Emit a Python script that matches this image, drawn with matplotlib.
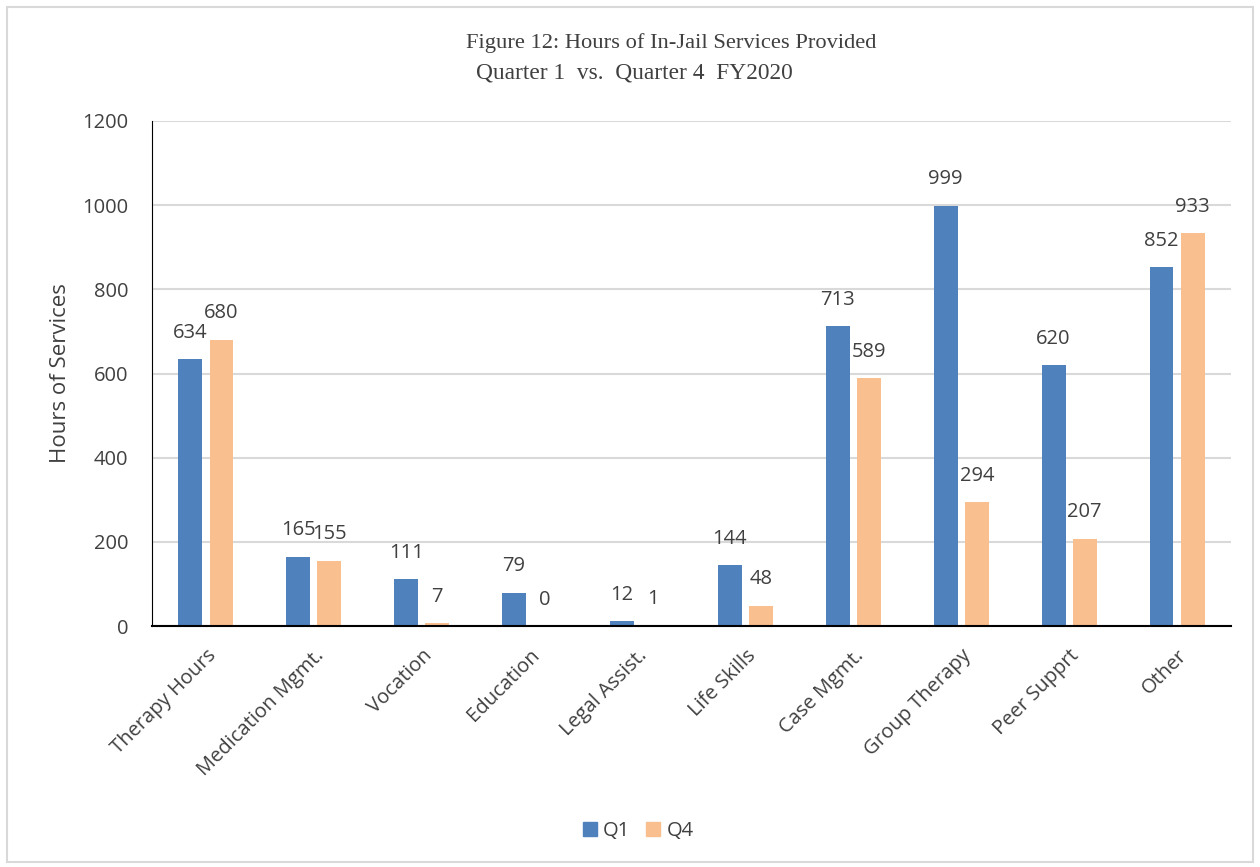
# Grouped bar chart: hours of in-jail services, Q1 vs Q4
import matplotlib.pyplot as plt
from matplotlib.patches import Patch, Rectangle
import numpy as np

categories = ["Therapy Hours", "Medication Mgmt.", "Vocation", "Education",
              "Legal Assist.", "Life Skills", "Case Mgmt.", "Group Therapy",
              "Peer Supprt", "Other"]
q1 = [634, 165, 111, 79, 12, 144, 713, 999, 620, 852]
q4 = [680, 155, 7, 0, 1, 48, 589, 294, 207, 933]
yticks = [0, 200, 400, 600, 800, 1000, 1200]

blue = "#4F81BD"
peach = "#F9BF8F"
text_col = "#404040"
sans = ["Open Sans", "DejaVu Sans"]

W, H = 1260, 867
fig = plt.figure(figsize=(W / 100, H / 100), dpi=100)

# light frame around the whole chart
fig.patches.append(Rectangle((7 / W, 5 / H), 1 - 14 / W, 1 - 12 / H,
                             transform=fig.transFigure, fill=False,
                             edgecolor="#D9D9D9", linewidth=1.5))

ax = fig.add_axes([152 / W, (H - 626) / H, (1231 - 152) / W, (626 - 121) / H])

x = np.arange(len(categories))
width = 0.222
off = 0.144
b1 = ax.bar(x - off, q1, width, color=blue, label="Q1")
b2 = ax.bar(x + off, q4, width, color=peach, label="Q4")

for bars, vals in ((b1, q1), (b2, q4)):
    for rect, v in zip(bars, vals):
        ax.annotate(str(v), (rect.get_x() + rect.get_width() / 2, v),
                    xytext=(0, 19), textcoords="offset points",
                    ha="center", va="center", fontsize=14.5,
                    color=text_col, family=sans)

ax.set_xlim(-0.5, len(categories) - 0.5)
ax.set_ylim(0, 1200)
ax.set_yticks(yticks)
ax.set_yticklabels([str(t) for t in yticks], family=sans, fontsize=14.5,
                   color=text_col)
ax.set_xticks(x)
ax.set_xticklabels(categories, rotation=45, ha="right", rotation_mode="anchor",
                   family=sans, fontsize=14.5, color=text_col)
ax.tick_params(axis="y", length=0, pad=17)
ax.tick_params(axis="x", length=0, pad=14)

ax.grid(axis="y", color="#D9D9D9", linewidth=1.5)
ax.set_axisbelow(True)
for s in ("top", "right"):
    ax.spines[s].set_visible(False)
ax.spines["left"].set_color("black")
ax.spines["bottom"].set_color("black")
ax.spines["bottom"].set_linewidth(1.5)

fig.text(60 / W, 1 - 373 / H, "Hours of Services", rotation=90,
         ha="center", va="center", fontsize=16, color=text_col, family=sans)

fig.text(671 / W, 1 - 43 / H, "Figure 12: Hours of In-Jail Services Provided",
         ha="center", va="center", fontsize=16.2, color=text_col,
         family="Liberation Serif")
fig.text(634 / W, 1 - 73 / H, "Quarter 1  vs.  Quarter 4  FY2020",
         ha="center", va="center", fontsize=16.8, color=text_col,
         family="Liberation Serif")

handles = [Patch(color=blue, label="Q1"), Patch(color=peach, label="Q4")]
fig.legend(handles=handles, loc="center", bbox_to_anchor=(638 / W, 1 - 831 / H),
           ncol=2, frameon=False, handlelength=0.7, handleheight=0.7,
           handletextpad=0.3, columnspacing=0.8,
           prop={"family": sans, "size": 14.5}, labelcolor=text_col)

fig.savefig("out.png", dpi=100)
